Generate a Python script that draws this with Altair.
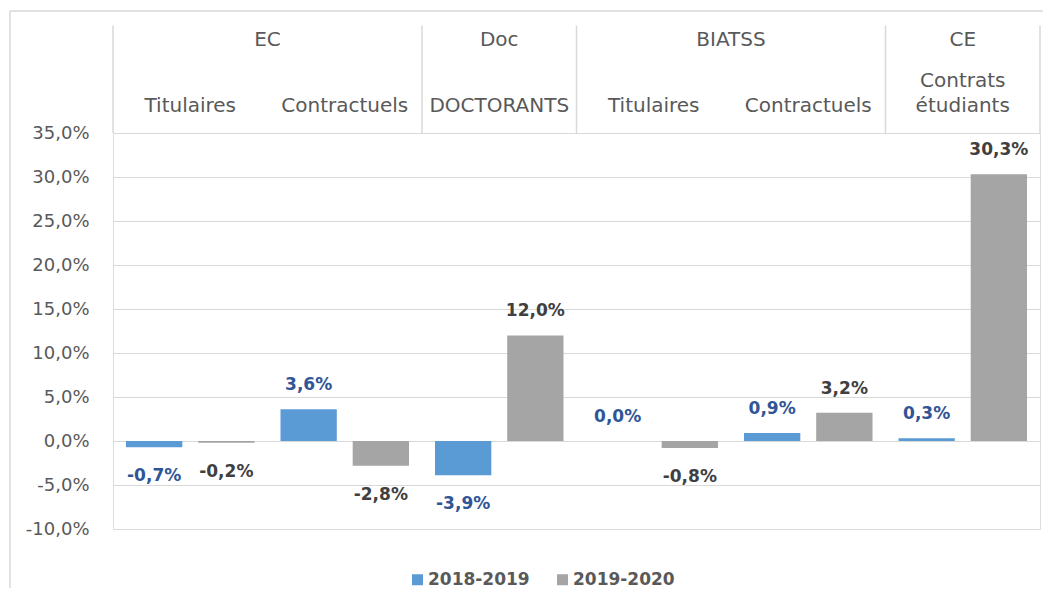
import altair as alt
import pandas as pd

# ---- data ----
cat_keys = ["EC|Titulaires", "EC|Contractuels", "Doc|DOCTORANTS",
            "BIATSS|Titulaires", "BIATSS|Contractuels", "CE|Contrats étudiants"]
sub_labels = ["Titulaires", "Contractuels", "DOCTORANTS",
              "Titulaires", "Contractuels", "Contrats\nétudiants"]
groups = ["EC", "Doc", "BIATSS", "CE"]
group_first = ["EC|Titulaires", "Doc|DOCTORANTS", "BIATSS|Titulaires", "CE|Contrats étudiants"]
group_span = [2, 1, 2, 1]
years = ["2018-2019", "2019-2020"]
v_2018_2019 = [-0.7, 3.6, -3.9, 0.0, 0.9, 0.3]
v_2019_2020 = [-0.2, -2.8, 12.0, -0.8, 3.2, 30.3]
y_ticks = [-10, -5, 0, 5, 10, 15, 20, 25, 30, 35]

def fr(v):
    return f"{v:.1f}".replace(".", ",") + "%"

rows = []
for k, a, b in zip(cat_keys, v_2018_2019, v_2019_2020):
    rows.append({"cat": k, "year": years[0], "value": a, "lbl": fr(a)})
    rows.append({"cat": k, "year": years[1], "value": b, "lbl": fr(b)})
df = pd.DataFrame(rows)

hdr = pd.DataFrame({"cat": cat_keys, "sub": sub_labels,
                    "lines": [s.count("\n") + 1 for s in sub_labels]})
grp = pd.DataFrame({"cat": group_first, "grp": groups, "span": group_span})
one = pd.DataFrame({"a": [0]})

FONT = "DejaVu Sans"
GRID = "#D9D9D9"
TXT = "#595959"

xscale = alt.Scale(domain=cat_keys, paddingInner=0, paddingOuter=0)
yscale = alt.Scale(domain=[-10, 35], nice=False)
offscale = alt.Scale(domain=years, paddingInner=0.22, paddingOuter=0.18)

def X(**kw):
    return alt.X("cat:N", scale=xscale, axis=None, title=None, **kw)

base = alt.Chart(df)

bars = base.mark_bar().encode(
    x=X(),
    xOffset=alt.XOffset("year:N", scale=offscale),
    y=alt.Y("value:Q", scale=yscale, title=None,
            axis=alt.Axis(values=y_ticks, domain=False, ticks=False, grid=True,
                          gridColor=GRID, gridWidth=1.2, labelPadding=24,
                          labelFont=FONT, labelFontSize=18, labelColor=TXT,
                          labelExpr="replace(replace(format(datum.value, '.1f'), '.', ','), '\u2212', '-') + '%'")),
    color=alt.Color("year:N", scale=alt.Scale(domain=years, range=["#5B9BD5", "#A5A5A5"]),
                    legend=alt.Legend(title=None, orient="none", direction="horizontal",
                                      legendX=296, legendY=438, symbolType="square",
                                      symbolSize=121, symbolStrokeWidth=0, labelFont=FONT,
                                      labelFontSize=17, labelFontWeight="bold", labelColor=TXT,
                                      labelOffset=2, columnPadding=24, padding=0)),
)

def labels(filt, dy):
    return base.transform_filter(filt).mark_text(
        font=FONT, fontSize=17, fontWeight="bold", baseline="middle", dy=dy
    ).encode(
        x=X(),
        xOffset=alt.XOffset("year:N", scale=offscale),
        y=alt.Y("value:Q", scale=yscale),
        text="lbl:N",
        color=alt.condition(alt.datum.year == years[0], alt.value("#2F5597"), alt.value("#404040")),
    )

lbl_pos = labels(alt.datum.value >= 0, -24)
lbl_neg = labels(alt.datum.value < 0, 29)

sub_one = alt.Chart(hdr).transform_filter(alt.datum.lines == 1).mark_text(
    font=FONT, fontSize=20, color=TXT, baseline="bottom"
).encode(x=X(), y=alt.value(-17), text="sub:N")

sub_two = alt.Chart(hdr).transform_filter(alt.datum.lines == 2).mark_text(
    font=FONT, fontSize=20, color=TXT, baseline="bottom", lineBreak="\n", lineHeight=25
).encode(x=X(), y=alt.value(-42), text="sub:N")

grp2 = alt.Chart(grp).transform_filter(alt.datum.span == 2).mark_text(
    font=FONT, fontSize=20, color=TXT, baseline="alphabetic"
).encode(x=X(bandPosition=1), y=alt.value(-87), text="grp:N")

grp1 = alt.Chart(grp).transform_filter(alt.datum.span == 1).mark_text(
    font=FONT, fontSize=20, color=TXT, baseline="alphabetic"
).encode(x=X(bandPosition=0.5), y=alt.value(-87), text="grp:N")

div_start = alt.Chart(grp).mark_rule(color=GRID, strokeWidth=1.5).encode(
    x=X(bandPosition=0), y=alt.value(-107.5), y2=alt.value(0))
div_end = alt.Chart(hdr).transform_filter(alt.datum.cat == cat_keys[-1]).mark_rule(
    color=GRID, strokeWidth=1.5).encode(x=X(bandPosition=1), y=alt.value(-107.5), y2=alt.value(0))

frame_top = alt.Chart(one).mark_rule(color=GRID, strokeWidth=1.5).encode(
    x=alt.value(-103), x2=alt.value(930), y=alt.value(-122))
frame_left = alt.Chart(one).mark_rule(color=GRID, strokeWidth=1.5).encode(
    x=alt.value(-103), y=alt.value(-122), y2=alt.value(455))

chart = alt.layer(
    frame_top, frame_left, div_start, div_end, bars, lbl_pos, lbl_neg,
    sub_one, sub_two, grp2, grp1
).properties(
    width=927, height=396, padding={"left": 1, "top": 2, "right": 0, "bottom": 0}
).configure_view(strokeWidth=0).configure(background="white")

chart.save("out.html", embed_options={"renderer": "svg", "actions": False})
